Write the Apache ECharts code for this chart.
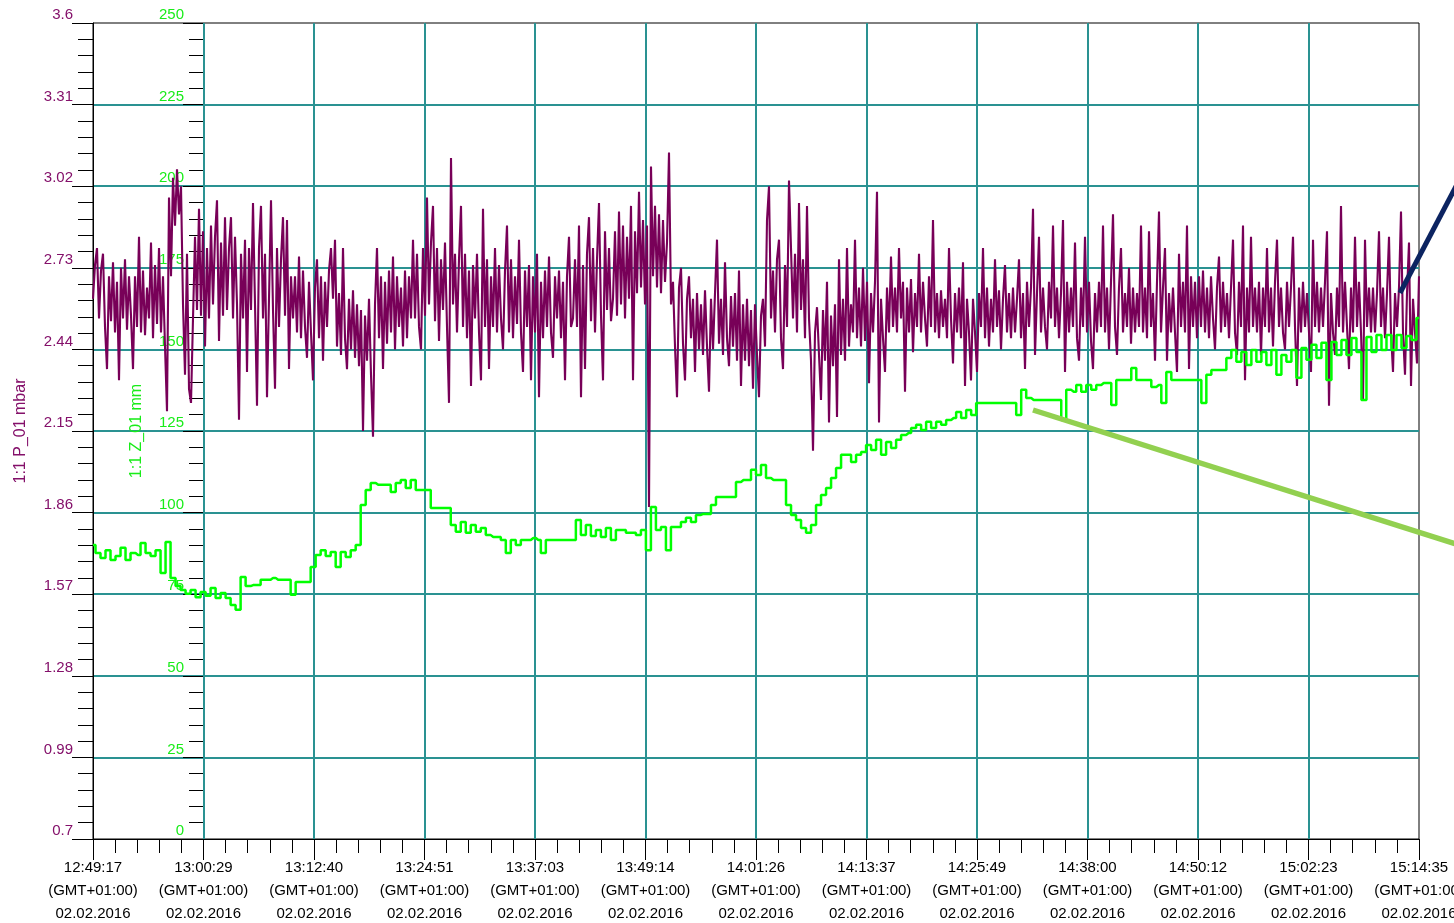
<!DOCTYPE html>
<html><head><meta charset="utf-8">
<script src="https://cdn.jsdelivr.net/npm/echarts/dist/echarts.min.js"></script>
<style>html,body{margin:0;padding:0;background:#fff}#c{width:1454px;height:923px}</style>
</head><body><div id="c"></div>
<script>
// X tick labels (12 equal intervals across the record)
const timeLabels = ['12:49:17','13:00:29','13:12:40','13:24:51','13:37:03','13:49:14','14:01:26','14:13:37','14:25:49','14:38:00','14:50:12','15:02:23','15:14:35'];
const tzLabel = '(GMT+01:00)';
const dateLabel = '02.02.2016';
// Y tick labels
const pTickLabels = ['0.7','0.99','1.28','1.57','1.86','2.15','2.44','2.73','3.02','3.31','3.6'];
const zTickLabels = ['0','25','50','75','100','125','150','175','200','225','250'];
// 1:1 P_01 (mbar), evenly sampled over the record
const pressure = [
2.62,2.74,2.80,2.55,2.72,2.78,2.52,2.37,2.70,2.54,2.75,2.50,2.68,2.33,2.73,2.55,2.76,2.51,2.70,2.56,
2.37,2.70,2.52,2.84,2.50,2.72,2.49,2.66,2.55,2.82,2.48,2.74,2.53,2.80,2.50,2.70,2.45,2.22,2.98,2.70,
3.05,2.88,3.08,2.92,3.02,2.60,2.35,2.78,2.30,2.25,2.55,2.84,2.58,2.94,2.56,2.86,2.45,2.80,2.55,2.88,
2.60,2.84,2.97,2.47,2.82,2.56,2.91,2.58,2.80,2.91,2.55,2.84,2.60,2.19,2.78,2.55,2.83,2.36,2.80,2.58,
2.96,2.60,2.24,2.80,2.95,2.55,2.78,2.27,2.62,2.97,2.58,2.30,2.80,2.52,2.76,2.91,2.56,2.90,2.37,2.70,
2.55,2.70,2.50,2.77,2.48,2.72,2.52,2.41,2.68,2.50,2.33,2.66,2.76,2.48,2.70,2.40,2.68,2.52,2.72,2.80,
2.62,2.83,2.45,2.64,2.42,2.80,2.48,2.37,2.62,2.44,2.65,2.41,2.60,2.38,2.58,2.15,2.56,2.40,2.62,2.35,
2.13,2.60,2.80,2.48,2.70,2.37,2.68,2.46,2.72,2.50,2.77,2.44,2.70,2.52,2.66,2.45,2.72,2.48,2.70,2.55,
2.83,2.55,2.78,2.52,2.44,2.80,2.56,2.98,2.60,2.82,2.95,2.54,2.80,2.47,2.76,2.58,2.82,2.52,2.25,3.12,
2.60,2.78,2.50,2.76,2.95,2.52,2.78,2.48,2.72,2.31,2.74,2.55,2.78,2.50,2.33,2.94,2.52,2.76,2.37,2.70,
2.52,2.80,2.50,2.74,2.55,2.44,2.72,2.88,2.50,2.76,2.48,2.70,2.53,2.83,2.50,2.36,2.72,2.52,2.74,2.33,
2.70,2.50,2.78,2.27,2.68,2.48,2.72,2.52,2.77,2.50,2.41,2.70,2.55,2.72,2.48,2.68,2.33,2.70,2.84,2.52,
2.55,2.76,2.52,2.88,2.27,2.74,2.37,2.78,2.91,2.54,2.80,2.50,2.76,2.96,2.56,2.33,2.86,2.58,2.80,2.54,
2.62,2.86,2.56,2.93,2.60,2.88,2.55,2.84,2.62,2.95,2.33,2.86,2.64,3.00,2.66,2.90,2.60,2.88,1.88,3.09,
2.70,2.95,2.66,2.92,2.64,2.90,2.68,2.82,3.14,2.60,2.68,2.45,2.27,2.66,2.73,2.46,2.33,2.62,2.70,2.48,
2.62,2.36,2.64,2.44,2.60,2.42,2.65,2.45,2.29,2.62,2.44,2.64,2.83,2.46,2.62,2.42,2.75,2.48,2.38,2.63,
2.45,2.64,2.40,2.72,2.31,2.60,2.40,2.62,2.38,2.58,2.30,2.60,2.42,2.27,2.56,2.62,2.45,2.90,3.02,2.55,
2.72,2.50,2.76,2.83,2.48,2.37,2.74,2.52,3.04,2.80,2.55,2.78,2.50,2.96,2.58,2.76,2.48,2.95,2.55,2.40,
2.08,2.50,2.59,2.42,2.26,2.58,2.40,2.68,2.18,2.56,2.38,2.60,2.20,2.76,2.42,2.62,2.40,2.80,2.45,2.60,
2.50,2.83,2.48,2.66,2.45,2.73,2.47,2.68,2.32,2.64,2.50,2.68,3.00,2.18,2.62,2.48,2.36,2.66,2.50,2.77,
2.52,2.66,2.50,2.80,2.55,2.68,2.29,2.66,2.50,2.69,2.43,2.64,2.52,2.78,2.50,2.68,2.55,2.45,2.70,2.52,
2.90,2.50,2.64,2.48,2.65,2.52,2.62,2.48,2.80,2.55,2.39,2.64,2.50,2.66,2.48,2.75,2.31,2.62,2.50,2.33,
2.62,2.50,2.36,2.64,2.52,2.80,2.48,2.66,2.45,2.62,2.50,2.76,2.52,2.65,2.44,2.62,2.74,2.50,2.64,2.48,
2.66,2.50,2.62,2.76,2.48,2.64,2.37,2.68,2.52,2.66,2.94,2.42,2.64,2.84,2.50,2.66,2.52,2.44,2.68,2.55,
2.88,2.52,2.66,2.48,2.64,2.90,2.36,2.68,2.50,2.66,2.52,2.82,2.48,2.40,2.66,2.52,2.84,2.50,2.68,2.47,
2.37,2.64,2.50,2.68,2.52,2.88,2.50,2.66,2.44,2.68,2.92,2.52,2.42,2.66,2.80,2.50,2.64,2.52,2.73,2.46,
2.66,2.50,2.64,2.52,2.88,2.50,2.66,2.48,2.86,2.52,2.64,2.40,2.68,2.93,2.50,2.66,2.80,2.40,2.64,2.50,
2.66,2.50,2.36,2.78,2.52,2.68,2.50,2.88,2.37,2.70,2.52,2.68,2.48,2.70,2.52,2.72,2.50,2.66,2.48,2.70,
2.55,2.44,2.66,2.77,2.50,2.68,2.52,2.64,2.48,2.66,2.83,2.50,2.42,2.68,2.52,2.88,2.33,2.66,2.50,2.84,
2.52,2.66,2.50,2.68,2.42,2.66,2.52,2.80,2.50,2.66,2.45,2.68,2.83,2.52,2.66,2.50,2.44,2.68,2.52,2.66,
2.84,2.52,2.31,2.66,2.50,2.68,2.52,2.64,2.50,2.36,2.83,2.52,2.68,2.50,2.66,2.52,2.68,2.86,2.24,2.64,
2.50,2.42,2.66,2.52,2.95,2.50,2.68,2.52,2.37,2.66,2.50,2.84,2.52,2.68,2.50,2.26,2.83,2.52,2.66,2.50,
2.66,2.50,2.64,2.86,2.52,2.66,2.48,2.64,2.84,2.50,2.36,2.64,2.52,2.66,2.93,2.50,2.35,2.64,2.82,2.31,2.62,2.50,2.39,2.70
];
// 1:1 Z_01 (mm), evenly sampled over the record
const stroke = [
90.1,87.6,86.1,88.5,85.5,86.7,89.2,85.5,87.6,87.0,
90.7,87.6,86.7,88.5,81.5,91.0,80.0,77.5,76.3,75.1,
76.3,74.1,75.7,74.5,76.9,73.8,75.4,73.8,71.7,70.2,
80.3,77.5,77.8,77.8,79.4,79.4,80.0,79.4,79.4,79.4,
74.8,78.7,78.7,78.7,83.3,87.0,88.5,86.7,87.9,83.3,
87.9,86.4,88.5,90.1,102.3,106.9,109.1,108.5,108.5,108.5,
106.3,109.1,110.0,107.5,110.0,106.9,106.9,106.9,101.4,101.4,
101.4,101.4,96.2,94.1,97.1,93.8,96.2,94.1,95.3,93.1,
92.5,92.5,91.6,87.6,91.6,90.1,91.6,91.6,92.2,91.6,
87.6,91.6,91.6,91.6,91.6,91.6,91.6,97.7,93.1,96.2,
92.8,94.7,92.5,95.3,91.6,94.7,94.7,93.8,93.8,93.1,
94.7,88.5,101.7,94.7,95.6,88.5,95.6,95.6,97.1,98.4,
97.1,99.3,99.6,99.6,102.3,104.8,104.8,104.8,104.8,109.4,
110.0,110.0,113.1,111.5,114.6,110.6,110.0,110.0,110.0,102.3,
99.3,97.7,95.3,93.8,96.2,102.3,105.4,107.5,110.6,113.7,
117.7,117.7,115.5,117.7,118.6,120.7,119.2,122.3,117.7,121.6,
119.8,122.3,123.8,124.4,125.9,126.9,125.3,127.8,125.9,127.8,
126.9,128.4,129.0,130.8,129.0,131.4,129.9,133.6,133.6,133.6,
133.6,133.6,133.6,133.6,133.6,129.9,137.6,135.1,134.5,134.5,
134.5,134.5,134.5,134.5,128.4,137.6,137.0,139.1,137.0,139.1,
137.6,139.1,139.7,139.7,133.0,140.6,140.6,140.6,144.3,140.6,
140.6,140.6,138.5,139.1,133.6,143.1,140.6,140.6,140.6,140.6,
140.6,140.6,133.6,142.2,143.7,143.7,143.7,147.4,149.8,146.2,
149.2,145.2,149.8,146.2,149.2,145.2,149.8,142.2,148.3,146.2,
149.8,141.3,150.4,146.8,151.4,147.4,152.0,140.6,152.3,148.3,
152.9,148.3,153.5,149.2,134.5,153.8,149.2,154.4,149.8,154.4,
149.8,154.4,150.4,154.1,152.9,159.6
];

const X_MAX = timeLabels.length - 1;
const pData = pressure.map((v, i) => [i * X_MAX / (pressure.length - 1), v]);
const zData = stroke.map((v, i) => [i * X_MAX / (stroke.length - 1), v]);

const PURPLE = '#780058';
const PURPLE_TXT = '#84106a';
const GREEN = '#00ff00';
const GREEN_TXT = '#19ec19';
const GRID = '#2a9292';
const FONT = 'Liberation Sans, Arial, sans-serif';

const chart = echarts.init(document.getElementById('c'), null, {renderer: 'canvas'});
chart.setOption({
  animation: false,
  backgroundColor: '#ffffff',
  textStyle: {fontFamily: FONT},
  grid: {left: 93, right: 35, top: 23, bottom: 84, containLabel: false, outerBoundsMode: 'none',
         show: true, borderColor: '#000', borderWidth: 1, backgroundColor: 'transparent'},
  xAxis: {
    type: 'value', min: 0, max: X_MAX, interval: 1,
    axisLine: {show: true, lineStyle: {color: '#000', width: 1}},
    axisTick: {show: true, length: 21, lineStyle: {color: '#000', width: 1}},
    minorTick: {show: true, splitNumber: 5, length: 14, lineStyle: {color: '#000', width: 1}},
    splitLine: {show: true, showMinLine: false, showMaxLine: false, lineStyle: {color: GRID, width: 2}},
    axisLabel: {
      show: true, margin: 17, color: '#000', fontSize: 15, lineHeight: 23, fontFamily: FONT,
      showMinLabel: true, showMaxLabel: true, hideOverlap: false,
      formatter: v => { const i = Math.round(v); return timeLabels[i] + '\n' + tzLabel + '\n' + dateLabel; }
    }
  },
  yAxis: [{
    type: 'value', min: 0.7, max: 3.6, interval: 0.29, position: 'left',
    name: '1:1 P_01 mbar', nameLocation: 'middle', nameRotate: 90, nameGap: 64,
    nameTextStyle: {color: PURPLE_TXT, fontSize: 16, fontFamily: FONT},
    axisLine: {show: true, lineStyle: {color: '#000', width: 1}},
    axisTick: {show: true, length: 21, lineStyle: {color: '#000', width: 1}},
    minorTick: {show: true, splitNumber: 5, length: 15, lineStyle: {color: '#000', width: 1}},
    splitLine: {show: true, showMinLine: false, showMaxLine: false, lineStyle: {color: GRID, width: 2}},
    axisLabel: {
      margin: 20, color: PURPLE_TXT, fontSize: 15, fontFamily: FONT, verticalAlign: 'bottom', lineHeight: 16,
      showMinLabel: true, showMaxLabel: true,
      formatter: v => pTickLabels[Math.round((v - 0.7) / 0.29)]
    }
  }, {
    type: 'value', min: 0, max: 250, interval: 25, position: 'left', offset: -110,
    name: '1:1 Z_01 mm', nameLocation: 'middle', nameRotate: 90, nameGap: 58,
    nameTextStyle: {color: GREEN_TXT, fontSize: 16, fontFamily: FONT},
    axisLine: {show: false},
    axisTick: {show: true, length: 20, lineStyle: {color: '#000', width: 1}},
    minorTick: {show: true, splitNumber: 5, length: 14, lineStyle: {color: '#000', width: 1}},
    splitLine: {show: false},
    axisLabel: {
      margin: 19, color: GREEN_TXT, fontSize: 15, fontFamily: FONT, verticalAlign: 'bottom', lineHeight: 16,
      showMinLabel: true, showMaxLabel: true,
      formatter: v => zTickLabels[Math.round(v / 25)]
    }
  }],
  series: [{
    name: '1:1 P_01', type: 'line', yAxisIndex: 0, data: pData, showSymbol: false,
    lineStyle: {color: PURPLE, width: 2.1}, z: 2
  }, {
    name: '1:1 Z_01', type: 'line', yAxisIndex: 1, data: zData, showSymbol: false, step: 'middle',
    lineStyle: {color: GREEN, width: 2.5}, z: 3
  }],
  graphic: [{
    type: 'line', z: 100, shape: {x1: 1400, y1: 293, x2: 1462, y2: 175},
    style: {stroke: '#0c2461', lineWidth: 5}
  }, {
    type: 'line', z: 100, shape: {x1: 1033, y1: 410, x2: 1462, y2: 546},
    style: {stroke: '#92d050', lineWidth: 5.5}
  }]
});
</script>
</body></html>
